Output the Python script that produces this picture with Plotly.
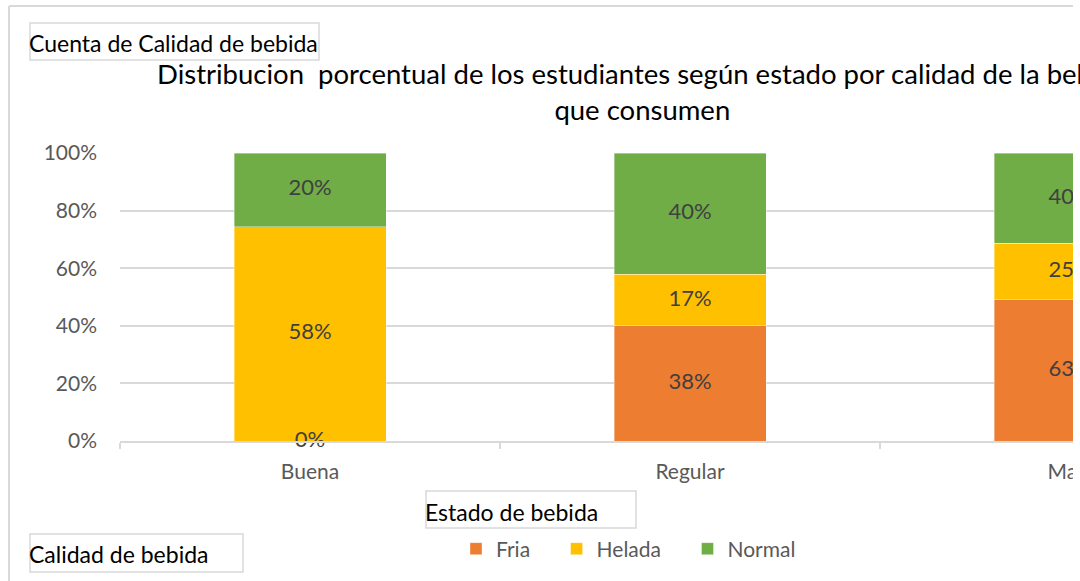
import numpy as np
import plotly.graph_objects as go

# ── Data ────────────────────────────────────────────────────────────
categorias = ["Buena", "Regular", "Mala"]
fria = [0, 38, 63]
helada = [58, 17, 25]
normal = [20, 40, 40]

series = ["Fria", "Helada", "Normal"]
colores = ["#ED7D31", "#FFC000", "#70AD47"]

titulo = ("Distribucion  porcentual de los estudiantes según estado por calidad de la bebida"
          "<br>que consumen")

# ── Geometry helpers (pixel -> paper) ───────────────────────────────
W, H = 1080, 581
X0, X1, Y0, Y1 = 120, 1073, 153, 441  # plot area in pixels
BAND = 380  # px per category

FONT = "Lato"
GRIS = "#D9D9D9"


def px(x):
    return (x - X0) / (X1 - X0)


def py(y):
    return (Y1 - y) / (Y1 - Y0)


# ── Label positions (centre of each normalised segment) ─────────────
valores = np.array([fria, helada, normal], dtype=float)
norm = valores / valores.sum(axis=0) * 100
medio = np.cumsum(norm, axis=0) - norm / 2

fig = go.Figure()

# legend entries in Excel are spaced wider than plotly's default
PAD = "\u00a0" * 4
for nombre, vals, color in zip(series, valores, colores):
    fig.add_trace(go.Bar(
        x=categorias,
        y=vals,
        name=nombre + PAD,
        marker={"color": color, "line": {"width": 0.6, "color": "rgba(255,255,255,0.6)"}},
        hoverinfo="skip",
    ))

lab_x, lab_y, lab_t = [], [], []
for vals, mids in zip(valores, medio):
    lab_x += categorias
    lab_y += list(mids)
    lab_t += [f"{v:.0f}%" for v in vals]

fig.add_trace(go.Scatter(
    x=lab_x,
    y=lab_y,
    text=lab_t,
    mode="text",
    textposition="middle center",
    textfont={"family": FONT, "size": 22, "color": "#404040"},
    showlegend=False,
    hoverinfo="skip",
    cliponaxis=False,
))

# ── Pivot field buttons and frame ───────────────────────────────────
cajas = [
    ("Cuenta de Calidad de bebida", 30, 319, 23, 60, 43),
    ("Estado de bebida", 426, 636, 491, 528, 512),
    ("Calidad de bebida", 30, 243, 534, 572, 554),
]
shapes = [
    # the chart is cut off at the right: blank strip over everything there
    dict(type="rect", xref="paper", yref="paper", x0=px(X1), x1=px(W + 10), y0=py(-10), y1=py(H + 10),
         fillcolor="white", line={"width": 0}, layer="above"),
    # outer frame (top and left edges only visible)
    dict(type="line", xref="paper", yref="paper", x0=px(9), x1=px(X1), y0=py(6), y1=py(6),
         line={"color": GRIS, "width": 2}),
    dict(type="line", xref="paper", yref="paper", x0=px(9), x1=px(9), y0=py(6), y1=py(H + 5),
         line={"color": GRIS, "width": 2}),
]
annotations = []
for texto, xa, xb, ya, yb, yc in cajas:
    shapes.append(dict(type="rect", xref="paper", yref="paper",
                       x0=px(xa), x1=px(xb), y0=py(ya), y1=py(yb),
                       line={"color": GRIS, "width": 1.5}))
    annotations.append(dict(text=texto, xref="paper", yref="paper", x=px(xa - 3), y=py(yc),
                            xanchor="left", yanchor="middle", showarrow=False,
                            font={"family": FONT, "size": 23, "color": "#000000"}))

annotations.append(dict(text=titulo, xref="paper", yref="paper", x=px(642), y=py(91),
                        xanchor="center", yanchor="middle", showarrow=False, align="center",
                        font={"family": FONT, "size": 27.5, "color": "#000000"}))

fig.update_layout(
    width=W,
    height=H,
    autosize=False,
    margin={"l": X0, "r": W - X1, "t": Y0, "b": H - Y1, "pad": 0},
    paper_bgcolor="white",
    plot_bgcolor="white",
    barmode="stack",
    barnorm="percent",
    bargap=0.6,
    font={"family": FONT, "color": "#595959"},
    showlegend=True,
    legend={
        "orientation": "h",
        "x": px(456),
        "xanchor": "left",
        "y": py(549),
        "yanchor": "middle",
        "font": {"family": FONT, "size": 21, "color": "#595959"},
        "bgcolor": "rgba(0,0,0,0)",
        "traceorder": "normal",
    },
    xaxis={
        "type": "category",
        "range": [-0.5, (X1 - X0) / BAND - 0.5],
        "automargin": False,
        "tickson": "boundaries",
        "ticks": "outside",
        "ticklen": 6,
        "tickcolor": GRIS,
        "tickwidth": 1.5,
        "showline": True,
        "linecolor": GRIS,
        "linewidth": 1.5,
        "showgrid": False,
        "tickfont": {"family": FONT, "size": 21, "color": "#595959"},
        "ticklabelstandoff": 11,
    },
    yaxis={
        "range": [0, 100],
        "dtick": 20,
        "ticksuffix": "%",
        "automargin": False,
        "showgrid": True,
        "gridcolor": GRIS,
        "gridwidth": 1.5,
        "zeroline": False,
        "showline": False,
        "tickfont": {"family": FONT, "size": 21, "color": "#595959"},
        "ticklabelstandoff": 22,
    },
    shapes=shapes,
    annotations=annotations,
)

# page margin off so the 1080x581 figure fills the window exactly
fig.write_html(
    "out.html",
    config={"responsive": False, "displayModeBar": False},
    post_script=(
        "document.body.style.margin='0';"
        "document.body.style.overflow='hidden';"
        "Plotly.relayout(document.getElementById('{plot_id}'), {width: 1080, height: 581});"
    ),
)
